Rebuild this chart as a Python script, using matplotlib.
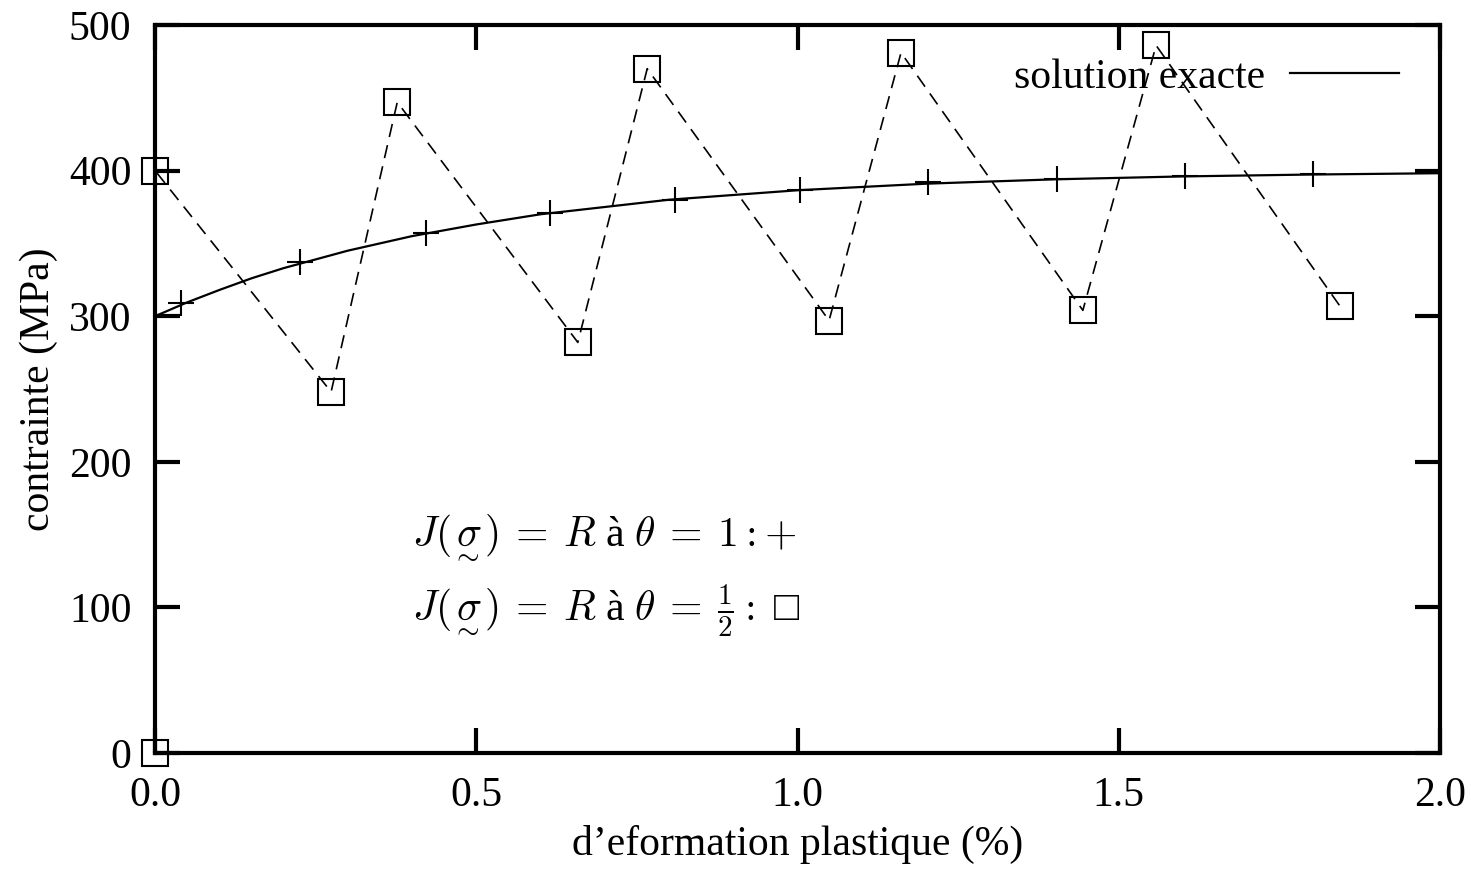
import matplotlib
matplotlib.use("Agg")
import matplotlib.pyplot as plt

plt.rcParams['font.family'] = ['Liberation Serif', 'DejaVu Serif']
plt.rcParams['mathtext.fontset'] = 'cm'

# solution exacte
x_exact = [0.0, 0.05, 0.1, 0.15, 0.2, 0.3, 0.4, 0.5, 0.6, 0.7, 0.8,
           1.0, 1.2, 1.4, 1.6, 1.8, 2.0]
y_exact = [300, 309.5, 318, 326, 333, 345, 355, 363, 370, 375, 380,
           386.5, 391, 394, 396, 397.3, 398.2]

# theta = 1 : +
x_plus = [0.04, 0.226, 0.422, 0.614, 0.81, 1.004, 1.203, 1.404, 1.603, 1.802]
y_plus = [309, 337, 357, 371, 380, 387, 392, 394, 396, 398]

# theta = 1/2 : squares
x_sq = [0.0, 0.0, 0.274, 0.377, 0.658, 0.766, 1.049, 1.161, 1.444, 1.558, 1.844]
y_sq = [0, 400, 248, 447, 282, 470, 297, 481, 304, 486, 307]

fig = plt.figure(figsize=(14.71, 8.77), dpi=100)
ax = fig.add_axes([0.1054, 0.1414, 0.8736, 0.8301])

ax.plot(x_exact, y_exact, '-k', linewidth=1.6, label='solution exacte')
ax.plot(x_plus, y_plus, 'k+', markersize=19, markeredgewidth=1.5)
ax.plot(x_sq, y_sq, color='k', linestyle=(0, (8, 5)), linewidth=1.2,
        marker='s', markersize=19, markerfacecolor='none', markeredgewidth=1.5,
        clip_on=False)

ax.set_xlim(0, 2.0)
ax.set_ylim(0, 500)
ax.set_xticks([0.0, 0.5, 1.0, 1.5, 2.0])
ax.set_xticklabels(['0.0', '0.5', '1.0', '1.5', '2.0'])
ax.set_yticks([0, 100, 200, 300, 400, 500])

for s in ax.spines.values():
    s.set_linewidth(3)
ax.tick_params(direction='in', length=18, width=3, labelsize=30,
               top=True, right=True)
ax.tick_params(axis='x', pad=17)
ax.tick_params(axis='y', pad=17)

ax.set_xlabel('d\u2019eformation plastique (%)', fontsize=30, labelpad=7)
ax.set_ylabel('contrainte (MPa)', fontsize=30, labelpad=8)

ax.text(0.2, 0.297, r'$J(\underset{\sim}{\sigma})\:=\:R$ à $\theta\:=\:1 : +$',
        transform=ax.transAxes, fontsize=30, va='center')
ax.text(0.2, 0.197, r'$J(\underset{\sim}{\sigma})\:=\:R$ à $\theta\:=\:\frac{1}{2} :$ □',
        transform=ax.transAxes, fontsize=30, va='center')

# line after the text like gnuplot
leg = ax.legend(loc='upper right', frameon=False, fontsize=30, handlelength=2.6,
                bbox_to_anchor=(0.997, 1.006), handletextpad=0.6, markerfirst=False)

fig.savefig('out.png', dpi=100)
